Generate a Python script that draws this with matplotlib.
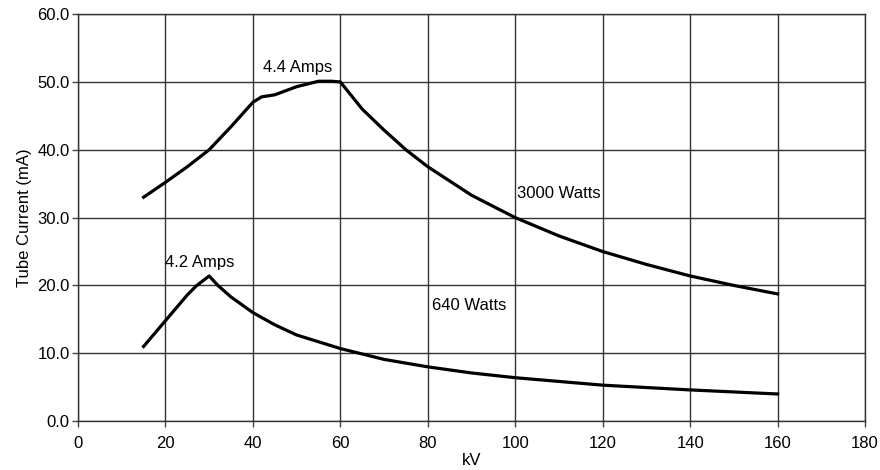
import matplotlib.pyplot as plt
import numpy as np

plt.rcParams['font.family'] = ['Liberation Sans', 'DejaVu Sans']

# 3000 W curve (kV, mA)
kv_3000 = [15, 20, 25, 30, 35, 40, 42, 45, 50, 55, 58, 60, 62, 65, 70, 75, 80, 90, 100, 110, 120, 130, 140, 150, 160]
ma_3000 = [33.0, 35.2, 37.5, 40.0, 43.4, 47.0, 47.8, 48.1, 49.3, 50.1, 50.1, 50.0, 48.4, 46.0, 42.9, 40.0, 37.5, 33.3, 30.0, 27.3, 25.0, 23.1, 21.4, 20.0, 18.75]

# 640 W curve (kV, mA)
kv_640 = [15, 20, 25, 27, 30, 32, 35, 40, 45, 50, 60, 70, 80, 90, 100, 120, 140, 160]
ma_640 = [11.0, 14.8, 18.6, 19.9, 21.4, 20.0, 18.3, 16.0, 14.2, 12.7, 10.7, 9.1, 8.0, 7.1, 6.4, 5.3, 4.6, 4.0]

fig, ax = plt.subplots(figsize=(8.8, 4.7), dpi=100)
fig.subplots_adjust(left=0.0886, right=0.983, top=0.970, bottom=0.104)

ax.plot(kv_3000, ma_3000, color='black', lw=2.3, solid_joinstyle='round')
ax.plot(kv_640, ma_640, color='black', lw=2.3, solid_joinstyle='round')

ax.text(42.3, 51.5, '4.4 Amps', fontsize=12, va='baseline')
ax.text(19.8, 22.7, '4.2 Amps', fontsize=12, va='baseline')
ax.text(100.3, 32.9, '3000 Watts', fontsize=12, va='baseline')
ax.text(80.9, 16.4, '640 Watts', fontsize=12, va='baseline')

ax.set_xlim(0, 180)
ax.set_ylim(0, 60)
ax.set_xticks(np.arange(0, 181, 20))
ax.set_yticks(np.arange(0, 61, 10))
ax.set_yticklabels([f'{v:.1f}' for v in np.arange(0, 61, 10)])
ax.tick_params(labelsize=12, color='#444444', length=4, width=1, pad=2)
ax.tick_params(axis='x', pad=7)
ax.grid(True, color='#333333', lw=1)
for s in ax.spines.values():
    s.set_color('#333333')
    s.set_linewidth(1)

ax.set_xlabel('kV', fontsize=12, labelpad=1)
ax.set_ylabel('Tube Current (mA)', fontsize=12, labelpad=4)

plt.savefig('out.png', dpi=100)
